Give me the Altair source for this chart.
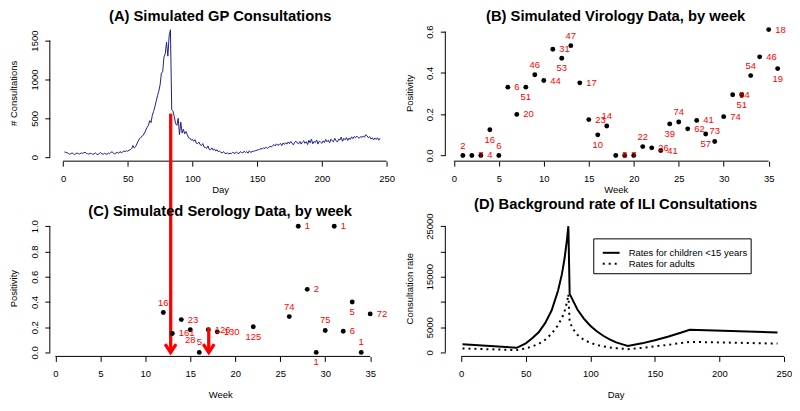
import altair as alt
import pandas as pd

FONT = "Liberation Sans"
W, H = 342, 137
COL_GAP, ROW_GAP = 55, 59

# ---------------- Panel A: simulated GP consultations (daily) ----------------
gp_consultations = [
    68, 62, 58, 50, 38, 45, 55, 42, 36, 48,
    52, 44, 40, 56, 48, 58, 62, 50, 44, 40,
    50, 46, 36, 42, 55, 40, 34, 48, 60, 42,
    38, 50, 44, 36, 52, 46, 62, 70, 48, 42,
    56, 62, 50, 72, 58, 66, 80, 70, 84, 76,
    90, 96, 110, 150, 118, 132, 170, 205, 235, 255,
    265, 285, 310, 350, 385, 410, 470, 445, 540, 590,
    650, 720, 790, 850, 930, 1080, 1100, 1290, 1330, 1480,
    1300, 1560, 1640, 610, 590, 520, 430, 410, 500, 290,
    450, 310, 360, 300, 330, 290, 250, 245, 220, 230,
    205, 225, 180, 175, 195, 160, 150, 175, 130, 125,
    115, 145, 100, 95, 120, 90, 105, 80, 95, 70,
    78, 60, 55, 72, 50, 45, 58, 40, 52, 45,
    62, 55, 48, 68, 52, 46, 72, 60, 55, 78,
    58, 72, 52, 82, 62, 70, 76, 80, 84, 92,
    95, 100, 112, 104, 122, 110, 130, 114, 126, 142,
    130, 150, 162, 144, 172, 154, 160, 178, 148, 182,
    164, 186, 168, 196, 174, 202, 180, 158, 192, 206,
    184, 172, 202, 168, 196, 212, 178, 200, 162, 218,
    184, 232, 172, 202, 188, 222, 168, 206, 194, 178,
    210, 188, 228, 198, 216, 184, 232, 210, 198, 242,
    214, 194, 232, 220, 258, 204, 242, 224, 252, 214,
    246, 228, 262, 238, 266, 250, 272, 254, 244, 266,
    256, 270, 258, 290, 274, 250, 264, 234, 250, 222,
    246, 228, 250, 218, 244,
]
gp_day = list(range(1, len(gp_consultations) + 1))
gp_x_ticks = [0, 50, 100, 150, 200, 250]
gp_y_ticks = [0, 500, 1000, 1500]

# red arrow from the epidemic peak in (A) down to week 13 of (C)
arrow_day = 83.2
arrow_top_consultations = 560

# ---------------- Panel B: simulated virology data ----------------
viro_week = list(range(1, 37))
viro_positivity = [
    0.0, 0.0, 0.0, 0.125, 0.0, 0.331, 0.199, 0.331, 0.391, 0.363,
    0.515, 0.471, 0.532, 0.352, 0.174, 0.100, 0.143, 0.0, 0.0, 0.0,
    0.043, 0.037, 0.024, 0.153, 0.162, 0.129, 0.170, 0.104, 0.068, 0.188,
    0.294, 0.294, 0.387, 0.478, 0.610, 0.421,
]
viro_label = [
    "2", "7", "4", "16", "6", "6", "20", "51", "46", "44",
    "31", "53", "47", "17", "23", "10", "14", "5", "7", "",
    "22", "26", "41", "39", "74", "62", "41", "57", "73", "74",
    "54", "51", "54", "46", "18", "19",
]
side_cycle = ["above", "right", "right", "below"]
viro_side = [side_cycle[i % 4] for i in range(len(viro_week))]
week_ticks = [0, 5, 10, 15, 20, 25, 30, 35]

# ---------------- Panel C: simulated serology data ----------------
sero_week = [12, 13, 14, 15, 16, 17, 18, 22, 26, 27, 28, 29, 30, 31, 32, 33, 34, 35]
sero_positivity = [0.316, 0.15, 0.26, 0.18, 0.0, 0.18, 0.163, 0.203, 0.284, 1.0,
                   0.5, 0.0, 0.174, 1.0, 0.168, 0.40, 0.0, 0.305]
sero_label = ["16", "161", "23", "28", "5", "126", "130", "125", "74", "1",
              "2", "1", "75", "1", "6", "5", "1", "72"]
sero_side = [side_cycle[i % 4] for i in range(len(sero_week))]
arrow_head_week = [12.81, 17.05]
arrow_short_top = 0.195

# ---------------- Panel D: background ILI consultation rates ----------------
child_day = [1, 43, 50, 55, 60, 65, 70, 75, 78, 80, 82, 83, 84, 90, 95, 100, 105,
             110, 115, 120, 125, 129, 140, 150, 160, 170, 177, 245]
child_rate = [1640, 920, 1800, 2800, 4000, 5800, 8300, 12200, 15500, 18500, 22500,
              25000, 11600, 8500, 6700, 5300, 4200, 3300, 2600, 2000, 1600, 1300,
              1800, 2400, 3100, 3900, 4500, 3950]
adult_day = [1, 43, 50, 55, 60, 65, 70, 75, 78, 80, 82, 83, 84, 87, 90, 95, 100,
             105, 110, 115, 120, 125, 129, 140, 150, 160, 170, 177, 245]
adult_rate = [790, 460, 800, 1200, 1700, 2500, 3700, 5400, 6800, 8100, 10000, 11500,
              6000, 4500, 3500, 2500, 1900, 1500, 1200, 1000, 850, 750, 650, 900,
              1200, 1500, 1850, 2100, 1750]
rate_ticks = [0, 5000, 10000, 15000, 20000, 25000]
legend_labels = ["Rates for children <15 years", "Rates for adults"]

# ---------------- scales (padded like R's 4% axis extension) ----------------
a_xs = alt.Scale(domain=[-10.2, 253.1], nice=False, zero=False)
a_ys = alt.Scale(domain=[-51.3, 1705], nice=False, zero=False)
b_xs = alt.Scale(domain=[-0.947, 36.93], nice=False, zero=False)
b_ys = alt.Scale(domain=[-0.0275, 0.6337], nice=False, zero=False)
c_xs = alt.Scale(domain=[-0.615, 37.26], nice=False, zero=False)
c_ydom = [-0.0316, 1.0497]
c_ys = alt.Scale(domain=c_ydom, nice=False, zero=False)
d_xs = alt.Scale(domain=[-12.3, 251.6], nice=False, zero=False)
d_ys = alt.Scale(domain=[-789, 26243], nice=False, zero=False)

one = pd.DataFrame({"k": [0]})


def xaxis(title, ticks, title_y):
    return alt.Axis(values=ticks, title=title, titleY=title_y, titleBaseline="middle",
                    labelFlush=False, labelOverlap=False, labelPadding=7, tickSize=5,
                    domain=False, grid=False)


def yaxis(title, ticks, fmt, label_expr=None):
    kw = dict(values=ticks, title=title, titleX=-36, titleBaseline="middle",
              labelFlush=False, labelOverlap=False, format=fmt,
              labelAngle=-90, labelAlign="center", labelBaseline="bottom",
              labelPadding=5.6, tickSize=5, domain=False, grid=False)
    if label_expr:
        kw["labelExpr"] = label_expr
    return alt.Axis(**kw)


def axis_lines(xs, ys, xax, yax, x0, x1, y0, y1):
    xl = alt.Chart(one).mark_rule(color="black", strokeWidth=1).encode(
        x=alt.X(datum=x0, scale=xs, axis=xax), x2=alt.datum(x1), y=alt.value(H))
    yl = alt.Chart(one).mark_rule(color="black", strokeWidth=1).encode(
        y=alt.Y(datum=y0, scale=ys, axis=yax), y2=alt.datum(y1), x=alt.value(0))
    return xl, yl


def label_layers(df, xs, ys, xax, yax):
    layers = []
    specs = {
        "right": dict(align="left", baseline="middle", dx=6.5),
        "above": dict(align="center", baseline="middle", dy=-10),
        "below": dict(align="center", baseline="middle", dy=10),
    }
    for side, kw in specs.items():
        layers.append(
            alt.Chart(df).transform_filter(alt.datum.side == side)
            .mark_text(color="red", font=FONT, fontSize=9.5, **kw)
            .encode(x=alt.X("week:Q", scale=xs, axis=xax),
                    y=alt.Y("positivity:Q", scale=ys, axis=yax),
                    text="label:N"))
    return layers


# ---------------- Panel A ----------------
a_xax = xaxis("Day", gp_x_ticks, 28)
a_yax = yaxis("# Consultations", gp_y_ticks, "d")
a_df = pd.DataFrame({"day": gp_day, "n": gp_consultations})
a_line = alt.Chart(a_df).mark_line(color="#20208f", strokeWidth=1).encode(
    x=alt.X("day:Q", scale=a_xs, axis=a_xax),
    y=alt.Y("n:Q", scale=a_ys, axis=a_yax),
)
c_zero_px = H + ROW_GAP + H * c_ydom[1] / (c_ydom[1] - c_ydom[0])
a_arrow = alt.Chart(one).mark_rule(color="red", strokeWidth=3.3).encode(
    x=alt.X(datum=arrow_day, scale=a_xs, axis=a_xax),
    y=alt.Y(datum=arrow_top_consultations, scale=a_ys, axis=a_yax),
    y2=alt.value(c_zero_px))
axl = axis_lines(a_xs, a_ys, a_xax, a_yax, 0, 250, 0, 1500)
panel_a = alt.layer(a_line, *axl, a_arrow).properties(
    width=W, height=H, title="(A) Simulated GP Consultations")

# ---------------- Panel B ----------------
b_xax = xaxis("Week", week_ticks, 28)
b_yax = yaxis("Positivity", [0, 0.2, 0.4, 0.6], ".1f")
b_df = pd.DataFrame({"week": viro_week, "positivity": viro_positivity,
                     "label": viro_label, "side": viro_side})
b_pts = alt.Chart(b_df).mark_circle(color="black", size=24, opacity=1).encode(
    x=alt.X("week:Q", scale=b_xs, axis=b_xax),
    y=alt.Y("positivity:Q", scale=b_ys, axis=b_yax),
)
bxl = axis_lines(b_xs, b_ys, b_xax, b_yax, 0, 35, 0, 0.6)
panel_b = alt.layer(b_pts, *bxl, *label_layers(b_df, b_xs, b_ys, b_xax, b_yax)).properties(
    width=W, height=H, title="(B) Simulated Virology Data, by week")

# ---------------- Panel C ----------------
c_xax = xaxis("Week", week_ticks, 38.5)
c_yax = yaxis("Positivity", [0, 0.2, 0.4, 0.6, 0.8, 1.0], ".1f")
c_df = pd.DataFrame({"week": sero_week, "positivity": sero_positivity,
                     "label": sero_label, "side": sero_side})
c_pts = alt.Chart(c_df).mark_circle(color="black", size=24, opacity=1).encode(
    x=alt.X("week:Q", scale=c_xs, axis=c_xax),
    y=alt.Y("positivity:Q", scale=c_ys, axis=c_yax),
)
cxl = axis_lines(c_xs, c_ys, c_xax, c_yax, 0, 35, 0, 1.0)
c_short = alt.Chart(one).mark_rule(color="red", strokeWidth=3.3).encode(
    x=alt.X(datum=arrow_head_week[1], scale=c_xs, axis=c_xax),
    y=alt.Y(datum=arrow_short_top, scale=c_ys, axis=c_yax), y2=alt.datum(0))
heads_df = pd.DataFrame({"week": arrow_head_week, "positivity": [0.0, 0.0]})
c_heads = alt.Chart(heads_df).mark_point(
    shape="M -1 -1.5 L 0 0 L 1 -1.5", filled=False, color="red", strokeWidth=3.3,
    size=121, opacity=1).encode(
    x=alt.X("week:Q", scale=c_xs, axis=c_xax),
    y=alt.Y("positivity:Q", scale=c_ys, axis=c_yax))
panel_c = alt.layer(c_pts, *cxl, *label_layers(c_df, c_xs, c_ys, c_xax, c_yax),
                    c_short, c_heads).properties(
    width=W, height=H, title="(C) Simulated Serology Data, by week")

# ---------------- Panel D ----------------
d_xax = xaxis("Day", gp_x_ticks, 38.5)
d_yax = yaxis("Consultation rate", rate_ticks, "d",
              "datum.value == 10000 || datum.value == 20000 ? '' : datum.label")
child_df = pd.DataFrame({"day": child_day, "rate": child_rate})
adult_df = pd.DataFrame({"day": adult_day, "rate": adult_rate})
d_child = alt.Chart(child_df).mark_line(color="black", strokeWidth=2).encode(
    x=alt.X("day:Q", scale=d_xs, axis=d_xax),
    y=alt.Y("rate:Q", scale=d_ys, axis=d_yax),
)
d_adult = alt.Chart(adult_df).mark_line(color="black", strokeWidth=2, strokeDash=[2, 4]).encode(
    x=alt.X("day:Q", scale=d_xs, axis=d_xax),
    y=alt.Y("rate:Q", scale=d_ys, axis=d_yax),
)
dxl = axis_lines(d_xs, d_ys, d_xax, d_yax, 0, 250, 0, 25000)
leg_box = alt.Chart(one).mark_rect(fill="white", stroke="black", strokeWidth=1).encode(
    x=alt.value(149), x2=alt.value(307), y=alt.value(19), y2=alt.value(54))
leg_solid = alt.Chart(one).mark_rule(color="black", strokeWidth=2).encode(
    x=alt.value(158), x2=alt.value(175), y=alt.value(33))
leg_dot = alt.Chart(one).mark_rule(color="black", strokeWidth=2, strokeDash=[2, 4]).encode(
    x=alt.value(158), x2=alt.value(175), y=alt.value(44))
leg_t1 = alt.Chart(one).mark_text(align="left", baseline="middle", font=FONT, fontSize=9.5,
                                  color="black").encode(
    x=alt.value(184), y=alt.value(33), text=alt.value(legend_labels[0]))
leg_t2 = alt.Chart(one).mark_text(align="left", baseline="middle", font=FONT, fontSize=9.5,
                                  color="black").encode(
    x=alt.value(184), y=alt.value(44), text=alt.value(legend_labels[1]))
panel_d = alt.layer(d_child, d_adult, *dxl, leg_box, leg_solid, leg_dot, leg_t1, leg_t2).properties(
    width=W, height=H, title="(D) Background rate of ILI Consultations")

chart = alt.concat(panel_a, panel_b, panel_c, panel_d, columns=2,
                   spacing={"row": ROW_GAP, "column": COL_GAP}, bounds="flush").properties(
    padding={"left": 0, "top": 0, "right": 0, "bottom": 0},
    background="white",
).configure(font=FONT).configure_view(stroke=None).configure_axis(
    tickColor="black", tickWidth=1,
    labelColor="black", titleColor="black", labelFont=FONT, titleFont=FONT,
    labelFontSize=9.5, titleFontSize=9.5, titleFontWeight="normal",
).configure_title(fontSize=14.8, font=FONT, fontWeight="bold", color="black", frame="group",
                  anchor="middle", offset=1)

chart.save("out.html", embed_options={"renderer": "svg", "actions": False})
